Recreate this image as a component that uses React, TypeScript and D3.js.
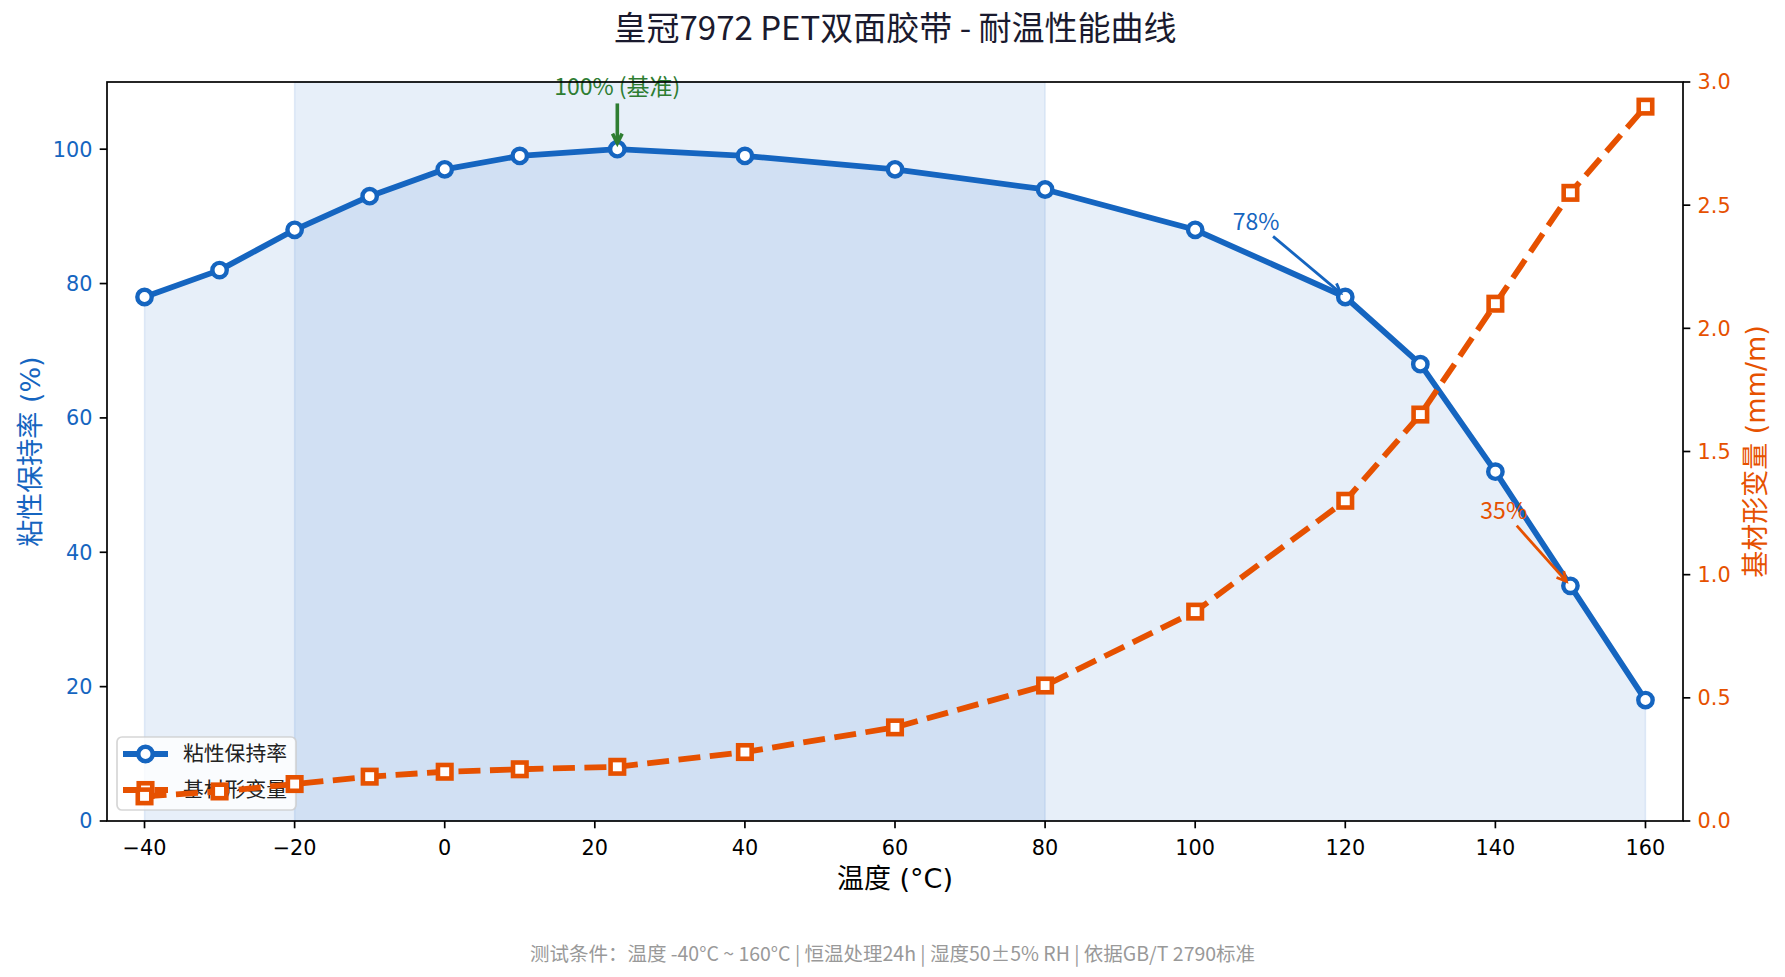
import { useEffect } from "react"
import * as d3 from "d3"

// temperature points (°C)
const temps = [-40, -30, -20, -10, 0, 10, 23, 40, 60, 80, 100, 120, 130, 140, 150, 160]
// adhesion retention (%)
const retention = [78, 82, 88, 93, 97, 99, 100, 99, 97, 94, 88, 78, 68, 52, 35, 18]
// substrate deformation (mm/m)
const deformation = [0.1, 0.12, 0.15, 0.18, 0.2, 0.21, 0.22, 0.28, 0.38, 0.55, 0.85, 1.3, 1.65, 2.1, 2.55, 2.9]

const xTicks = [-40, -20, 0, 20, 40, 60, 80, 100, 120, 140, 160]
const leftTicks = [0, 20, 40, 60, 80, 100]
const rightTicks = [0, 0.5, 1.0, 1.5, 2.0, 2.5, 3.0]

// shaded working range
const spanRange = [-20, 80]

const BLUE = "#1565C0"
const ORANGE = "#E65100"
const GREEN = "#2E7D32"

const W = 1785
const H = 977
const plot = { left: 107, right: 1683, top: 82, bottom: 821 }

const CJK = "'Noto Sans CJK SC', 'DejaVu Sans', sans-serif"
const LATIN = "'DejaVu Sans', 'Noto Sans CJK SC', sans-serif"

const fmtMinus = (v) => (v < 0 ? "\u2212" + Math.abs(v) : String(v))

function Arrow({ cx, cy, hw, hh, tx, ty, color, width }) {
    const dx = tx - cx
    const dy = ty - cy
    const len = Math.hypot(dx, dy)
    const ux = dx / len
    const uy = dy / len
    const t = Math.min(dx === 0 ? Infinity : hw / Math.abs(dx), dy === 0 ? Infinity : hh / Math.abs(dy))
    const sx = cx + dx * t + ux * 4
    const sy = cy + dy * t + uy * 4
    const ex = tx - ux * 6
    const ey = ty - uy * 6
    const hl = 9.5
    const hwid = 4.8
    const nx = -uy
    const ny = ux
    const head = `M${ex - ux * hl + nx * hwid},${ey - uy * hl + ny * hwid} L${ex},${ey} L${ex - ux * hl - nx * hwid},${ey - uy * hl - ny * hwid}`
    return (
        <g stroke={color} strokeWidth={width} fill="none">
            <line x1={sx} y1={sy} x2={ex} y2={ey} />
            <path d={head} strokeLinejoin="miter" />
        </g>
    )
}

export default function App() {
    useEffect(() => {
        document.body.style.margin = "0"
    }, [])

    const x = d3.scaleLinear().domain([-45, 165]).range([plot.left, plot.right])
    const yL = d3.scaleLinear().domain([0, 110]).range([plot.bottom, plot.top])
    const yR = d3.scaleLinear().domain([0, 3]).range([plot.bottom, plot.top])

    const retLine = d3
        .line()
        .x((_, i) => x(temps[i]))
        .y((d) => yL(d))
    const retArea = d3
        .area()
        .x((_, i) => x(temps[i]))
        .y0(yL(0))
        .y1((d) => yL(d))
    const defLine = d3
        .line()
        .x((_, i) => x(temps[i]))
        .y((d) => yR(d))

    const sq = 13.5
    const lw = 5.8
    const dash = "22 9.5"

    // annotation anchors (data coords)
    const aGreen = { tx: 23, ty: 108, px: 23, py: 100 }
    const aBlue = { tx: 105, ty: 88, px: 120, py: 78 }
    const aOrange = { tx: 138, ty: 45, px: 150, py: 35 }
    const annFs = 23

    return (
        <svg width={W} height={H} style={{ display: "block", background: "#fff" }}>
            <rect x={0} y={0} width={W} height={H} fill="#fff" />

            {/* title */}
            <text x={(plot.left + plot.right) / 2} y={40} textAnchor="middle" fontFamily={CJK} fontSize={33} fill="#1a1a2e">
                皇冠7972 PET双面胶带 - 耐温性能曲线
            </text>

            {/* span and area fill */}
            <rect
                x={x(spanRange[0])}
                y={plot.top}
                width={x(spanRange[1]) - x(spanRange[0])}
                height={plot.bottom - plot.top}
                fill={BLUE}
                fillOpacity={0.1}
                stroke={BLUE}
                strokeOpacity={0.1}
                strokeWidth={1.5}
            />
            <path d={retArea(retention)} fill={BLUE} fillOpacity={0.1} stroke={BLUE} strokeOpacity={0.1} strokeWidth={1.5} />

            {/* retention line */}
            <path d={retLine(retention)} fill="none" stroke={BLUE} strokeWidth={lw} strokeLinejoin="round" />
            {retention.map((d, i) => (
                <circle key={"c" + i} cx={x(temps[i])} cy={yL(d)} r={7.2} fill="#fff" stroke={BLUE} strokeWidth={4.4} />
            ))}

            {/* legend (left axis layer) */}
            <g>
                <rect x={117} y={737} width={179} height={73} rx={5} fill="#fff" fillOpacity={0.8} stroke="#cccccc" strokeOpacity={0.8} strokeWidth={1.7} />
                <line x1={123} x2={168} y1={754} y2={754} stroke={BLUE} strokeWidth={lw} />
                <circle cx={145.5} cy={754} r={7.2} fill="#fff" stroke={BLUE} strokeWidth={4.4} />
                <text x={183} y={754} dy="0.36em" fontFamily={CJK} fontSize={20.8} fill="#222">
                    粘性保持率
                </text>
                <line x1={123} x2={168} y1={790} y2={790} stroke={ORANGE} strokeWidth={lw} strokeDasharray={dash} />
                <rect x={145.5 - sq / 2} y={790 - sq / 2} width={sq} height={sq} fill="#fff" stroke={ORANGE} strokeWidth={4.6} />
                <text x={183} y={790} dy="0.36em" fontFamily={CJK} fontSize={20.8} fill="#222">
                    基材形变量
                </text>
            </g>

            {/* deformation line (right axis, drawn on top) */}
            <path d={defLine(deformation)} fill="none" stroke={ORANGE} strokeWidth={lw} strokeDasharray={dash} />
            {deformation.map((d, i) => (
                <rect
                    key={"s" + i}
                    x={x(temps[i]) - sq / 2}
                    y={yR(d) - sq / 2}
                    width={sq}
                    height={sq}
                    fill="#fff"
                    stroke={ORANGE}
                    strokeWidth={4.6}
                />
            ))}

            {/* annotations */}
            <text x={x(aGreen.tx)} y={yL(aGreen.ty)} textAnchor="middle" fontFamily={CJK} fontSize={annFs} fill={GREEN}>
                100% (基准)
            </text>
            <Arrow
                cx={x(aGreen.tx)}
                cy={yL(aGreen.ty) - 8}
                hw={64}
                hh={12}
                tx={x(aGreen.px)}
                ty={yL(aGreen.py)}
                color={GREEN}
                width={3.6}
            />
            <text x={x(aBlue.tx)} y={yL(aBlue.ty)} fontFamily={CJK} fontSize={annFs} fill={BLUE}>
                78%
            </text>
            <Arrow
                cx={x(aBlue.tx) + 23}
                cy={yL(aBlue.ty) - 8}
                hw={23}
                hh={12}
                tx={x(aBlue.px)}
                ty={yL(aBlue.py)}
                color={BLUE}
                width={2.8}
            />
            <text x={x(aOrange.tx)} y={yL(aOrange.ty)} fontFamily={CJK} fontSize={annFs} fill={ORANGE}>
                35%
            </text>
            <Arrow
                cx={x(aOrange.tx) + 23}
                cy={yL(aOrange.ty) - 8}
                hw={23}
                hh={12}
                tx={x(aOrange.px)}
                ty={yL(aOrange.py)}
                color={ORANGE}
                width={2.8}
            />

            {/* frame */}
            <rect
                x={plot.left}
                y={plot.top}
                width={plot.right - plot.left}
                height={plot.bottom - plot.top}
                fill="none"
                stroke="#000"
                strokeWidth={1.7}
            />

            {/* x axis ticks */}
            {xTicks.map((t) => (
                <g key={"x" + t}>
                    <line x1={x(t)} x2={x(t)} y1={plot.bottom} y2={plot.bottom + 7.3} stroke="#000" strokeWidth={1.7} />
                    <text x={x(t)} y={855} textAnchor="middle" fontFamily={LATIN} fontSize={20.8} fill="#000">
                        {fmtMinus(t)}
                    </text>
                </g>
            ))}

            {/* left ticks */}
            {leftTicks.map((t) => (
                <g key={"l" + t}>
                    <line x1={plot.left - 7.3} x2={plot.left} y1={yL(t)} y2={yL(t)} stroke="#000" strokeWidth={1.7} />
                    <text x={plot.left - 14.6} y={yL(t)} dy="0.36em" textAnchor="end" fontFamily={LATIN} fontSize={20.8} fill={BLUE}>
                        {t}
                    </text>
                </g>
            ))}

            {/* right ticks */}
            {rightTicks.map((t) => (
                <g key={"r" + t}>
                    <line x1={plot.right} x2={plot.right + 7.3} y1={yR(t)} y2={yR(t)} stroke="#000" strokeWidth={1.7} />
                    <text x={plot.right + 14.6} y={yR(t)} dy="0.36em" textAnchor="start" fontFamily={LATIN} fontSize={20.8} fill={ORANGE}>
                        {t.toFixed(1)}
                    </text>
                </g>
            ))}

            {/* axis labels */}
            <text x={(plot.left + plot.right) / 2} y={878} dy="0.36em" textAnchor="middle" fontFamily={LATIN} fontSize={27} fill="#000">
                温度 (°C)
            </text>
            <text
                transform={`translate(30,${(plot.top + plot.bottom) / 2}) rotate(-90)`}
                dy="0.36em"
                textAnchor="middle"
                fontFamily={LATIN}
                fontSize={27}
                fill={BLUE}
            >
                粘性保持率 (%)
            </text>
            <text
                transform={`translate(1755,${(plot.top + plot.bottom) / 2}) rotate(-90)`}
                dy="0.36em"
                textAnchor="middle"
                fontFamily={LATIN}
                fontSize={27}
                fill={ORANGE}
            >
                基材形变量 (mm/m)
            </text>

            {/* footer */}
            <text x={W / 2} y={954} dy="0.36em" textAnchor="middle" fontFamily={CJK} fontSize={19.5} fill="#999999">
                测试条件：温度 -40°C ~ 160°C | 恒温处理24h | 湿度50±5% RH | 依据GB/T 2790标准
            </text>
        </svg>
    )
}
